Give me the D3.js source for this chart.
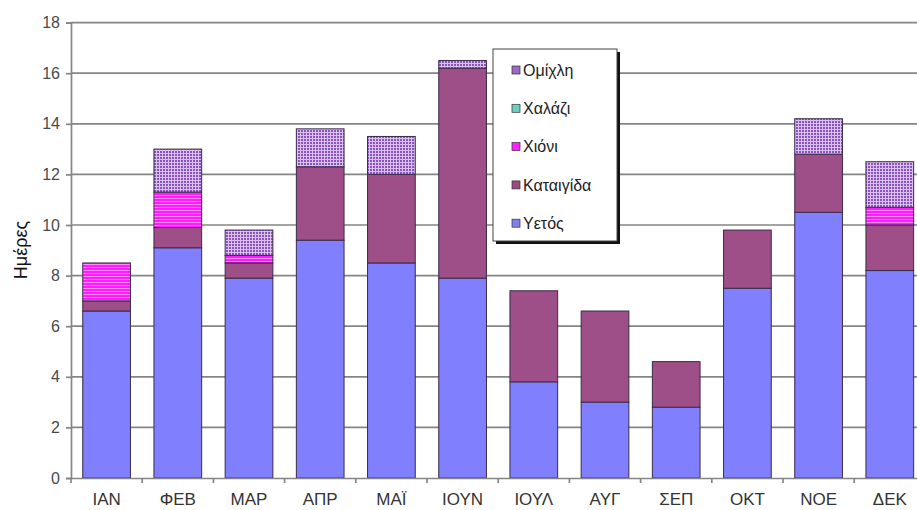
<!DOCTYPE html>
<html>
<head>
<meta charset="utf-8">
<script src="https://cdn.jsdelivr.net/npm/d3@7"></script>
<style>
  html, body { margin: 0; padding: 0; background: #fff; }
  svg { display: block; font-family: "Liberation Sans", Arial, sans-serif; }
</style>
</head>
<body>
<svg id="chart" width="917" height="510"></svg>
<script>
// Months (Greek abbreviations)
const months = ["ΙΑΝ", "ΦΕΒ", "ΜΑΡ", "ΑΠΡ", "ΜΑΪ", "ΙΟΥΝ", "ΙΟΥΛ", "ΑΥΓ", "ΣΕΠ", "ΟΚΤ", "ΝΟΕ", "ΔΕΚ"];

// Days per month for each weather phenomenon
const rain    = [6.6, 9.1, 7.9, 9.4, 8.5, 7.9, 3.8, 3.0, 2.8, 7.5, 10.5, 8.2];   // Υετός
const storm   = [0.4, 0.8, 0.6, 2.9, 3.5, 8.3, 3.6, 3.6, 1.8, 2.3, 2.3, 1.8];    // Καταιγίδα
const snow    = [1.5, 1.4, 0.3, 0, 0, 0, 0, 0, 0, 0, 0, 0.7];                     // Χιόνι
const hail    = [0, 0, 0, 0, 0, 0, 0, 0, 0, 0, 0, 0];                             // Χαλάζι
const fog     = [0, 1.7, 1.0, 1.5, 1.5, 0.3, 0, 0, 0, 0, 1.4, 1.8];               // Ομίχλη

const seriesKeys   = ["rain", "storm", "snow", "hail", "fog"];
const seriesLabels = ["Υετός", "Καταιγίδα", "Χιόνι", "Χαλάζι", "Ομίχλη"];
const yTicks = [0, 2, 4, 6, 8, 10, 12, 14, 16, 18];

const table = months.map((m, i) => ({
  month: m, rain: rain[i], storm: storm[i], snow: snow[i], hail: hail[i], fog: fog[i]
}));

const svg = d3.select("#chart");
const defs = svg.append("defs");

// Fog: purple with a fine light grid
const pFog = defs.append("pattern").attr("id", "pFog")
  .attr("patternUnits", "userSpaceOnUse").attr("width", 3).attr("height", 3);
pFog.append("rect").attr("width", 3).attr("height", 3).attr("fill", "#8a55bb");
pFog.append("rect").attr("width", 3).attr("height", 1).attr("fill", "#dcc0f2");
pFog.append("rect").attr("width", 1).attr("height", 3).attr("fill", "#dcc0f2");

// Snow: magenta with light horizontal stripes
const pSnow = defs.append("pattern").attr("id", "pSnow")
  .attr("patternUnits", "userSpaceOnUse").attr("width", 4).attr("height", 3);
pSnow.append("rect").attr("width", 4).attr("height", 3).attr("fill", "#ff1cff");
pSnow.append("rect").attr("width", 4).attr("height", 1).attr("fill", "#ff8cff");

const fills = {
  rain: "#8080ff",
  storm: "#9e4f88",
  snow: "url(#pSnow)",
  hail: "#5fc8b8",
  fog: "url(#pFog)"
};
const swatchFills = {
  rain: "#7f7ff0",
  storm: "#9b4a80",
  snow: "#ff22ff",
  hail: "#6fd0c0",
  fog: "#9a6ac8"
};

const x0 = 71, step = 71.2;
const x = d3.scaleBand().domain(months)
  .range([x0, x0 + step * months.length])
  .paddingInner(0.33).paddingOuter(0.165);
const y = d3.scaleLinear().domain([0, 18]).range([478, 22.6]);

// Horizontal gridlines
svg.append("g").selectAll("line")
  .data(yTicks.filter(t => t > 0))
  .join("line")
  .attr("x1", x0).attr("x2", 917)
  .attr("y1", d => y(d)).attr("y2", d => y(d))
  .attr("stroke", "#858585").attr("stroke-width", 1.7);

// Stacked bars
const stack = d3.stack().keys(seriesKeys)(table);
svg.append("g").selectAll("g")
  .data(stack)
  .join("g")
  .attr("fill", d => fills[d.key])
  .selectAll("rect")
  .data(d => d.filter(s => s[1] - s[0] > 0))
  .join("rect")
  .attr("x", d => x(d.data.month))
  .attr("width", x.bandwidth())
  .attr("y", d => y(d[1]))
  .attr("height", d => y(d[0]) - y(d[1]))
  .attr("stroke", "#3a2a4a").attr("stroke-width", 1);

// Y axis
const yAxis = svg.append("g").attr("transform", `translate(${x0},0)`)
  .call(d3.axisLeft(y).tickValues(yTicks).tickSize(5).tickPadding(6));
yAxis.select(".domain").attr("stroke", "#858585").attr("stroke-width", 1.7);
yAxis.selectAll(".tick line").attr("stroke", "#858585").attr("stroke-width", 1.7);
yAxis.selectAll(".tick text").attr("font-size", 16).attr("fill", "#4a4a4a")
  .attr("font-family", "Liberation Sans, Arial, sans-serif");

// X axis
const xAxis = svg.append("g").attr("transform", `translate(0,${y(0)})`)
  .call(d3.axisBottom(x).tickSize(0).tickPadding(15));
xAxis.select(".domain").attr("stroke", "#858585").attr("stroke-width", 1.7);
xAxis.selectAll(".tick text").attr("font-size", 17).attr("fill", "#333")
  .attr("font-family", "Liberation Sans, Arial, sans-serif");
// Category separators
xAxis.append("g").selectAll("line")
  .data(d3.range(0, months.length + 1))
  .join("line")
  .attr("x1", i => x0 + i * step).attr("x2", i => x0 + i * step)
  .attr("y1", 0).attr("y2", 5)
  .attr("stroke", "#858585").attr("stroke-width", 1.7);

// Y axis title
svg.append("text")
  .attr("transform", "translate(27,250) rotate(-90)")
  .attr("text-anchor", "middle")
  .attr("font-size", 18).attr("fill", "#111")
  .text("Ημέρες");

// Legend
const lg = svg.append("g").attr("transform", "translate(493,49)");
lg.append("rect").attr("x", 3).attr("y", 3).attr("width", 124).attr("height", 192).attr("fill", "#111");
lg.append("rect").attr("width", 124).attr("height", 192)
  .attr("fill", "#fff").attr("stroke", "#444").attr("stroke-width", 1);
const legendOrder = ["fog", "hail", "snow", "storm", "rain"];
const items = lg.selectAll("g.item")
  .data(legendOrder)
  .join("g").attr("class", "item")
  .attr("transform", (d, i) => `translate(19,${21 + i * 38.3})`);
items.append("rect").attr("x", 0).attr("y", -4).attr("width", 8).attr("height", 8)
  .attr("fill", d => swatchFills[d]).attr("stroke", "#333").attr("stroke-width", 0.7);
items.append("text").attr("x", 11).attr("y", 0).attr("dy", "0.35em")
  .attr("font-size", 16).attr("fill", "#222")
  .text(d => seriesLabels[seriesKeys.indexOf(d)]);
</script>
</body>
</html>
